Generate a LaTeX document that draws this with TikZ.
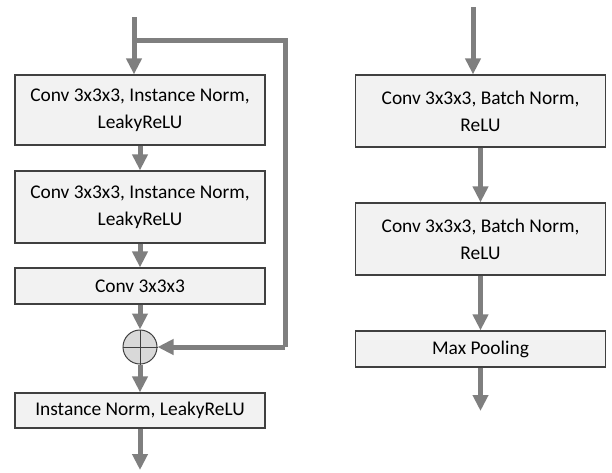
\documentclass[tikz,border=0pt]{standalone}
\usepackage{fontspec}
\setmainfont{Carlito}
\usetikzlibrary{arrows.meta}

\definecolor{flowgray}{HTML}{7F7F7F}
\definecolor{boxfill}{HTML}{F2F2F2}
\definecolor{boxline}{HTML}{404040}
\definecolor{sumfill}{HTML}{D9D9D9}

\begin{document}
\begin{tikzpicture}[x=1pt, y=-1pt,
        layer/.style={draw=boxline, fill=boxfill, line width=1.2pt, minimum width=250pt,
            inner sep=0pt, align=center, font=\fontsize{19.4}{27}\selectfont},
        flow/.style={flowgray, line width=5pt, -{Triangle[width=15pt,length=16pt]}},
        plain/.style={flowgray, line width=5pt}]
        \useasboundingbox (0,0) rectangle (612,472);

        % residual block
        \node[layer, minimum height=70pt] (c1) at (140,110) {Conv 3x3x3, Instance Norm,\\LeakyReLU};
        \node[layer, minimum height=72pt] (c2) at (140,207) {Conv 3x3x3, Instance Norm,\\LeakyReLU};
        \node[layer, minimum height=36pt] (c3) at (140,286) {Conv 3x3x3};
        \node[circle, draw=boxline, fill=sumfill, line width=1pt, minimum size=34pt, inner sep=0pt] (sum) at (140,347) {};
        \draw[boxline, line width=1pt] (sum.north) -- (sum.south) (sum.west) -- (sum.east);
        \node[layer, minimum height=35pt] (c4) at (140,410.5) {Instance Norm, LeakyReLU};

        \coordinate (in) at (134,17);
        \coordinate (split) at (134,40);
        \coordinate (out) at (140,470);

        \draw[flow] (in) -- (in |- c1.north);
        \draw[plain] (split) -- (285,40) -- (285,347);
        \draw[flow] (285,347) -- (sum.east);
        \draw[flow] (c1) -- (c2);
        \draw[flow] (c2) -- (c3);
        \draw[flow] (c3) -- (sum);
        \draw[flow] (sum) -- (c4);
        \draw[flow] (c4) -- (out);

        % plain block
        \node[layer, minimum height=72pt] (d1) at (480.5,111) {Conv 3x3x3, Batch Norm,\\ReLU};
        \node[layer, minimum height=72pt] (d2) at (480.5,239) {Conv 3x3x3, Batch Norm,\\ReLU};
        \node[layer, minimum height=36pt] (d3) at (480.5,349) {Max Pooling};

        \coordinate (din) at (473,7);
        \coordinate (dout) at (480.5,411);

        \draw[flow] (din) -- (din |- d1.north);
        \draw[flow] (d1) -- (d2);
        \draw[flow] (d2) -- (d3);
        \draw[flow] (d3) -- (dout);
\end{tikzpicture}
\end{document}
